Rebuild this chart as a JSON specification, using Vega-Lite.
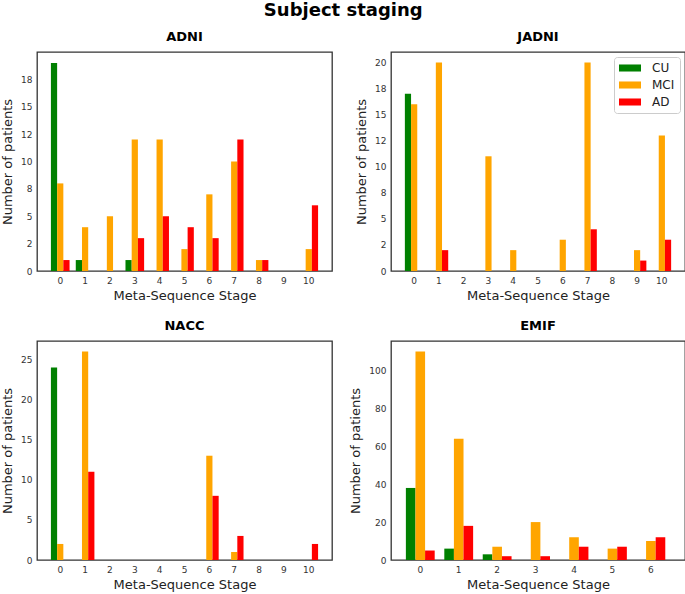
{
  "$schema": "https://vega.github.io/schema/vega-lite/v6.json",
  "background": "white",
  "padding": {"left": 0, "top": 2, "right": 1, "bottom": 2},
  "title": {"text": "Subject staging", "fontSize": 18, "fontWeight": "bold", "anchor": "middle", "offset": 10, "color": "#000"},
  "data": {"values": [
    {"cohort": "ADNI", "stage": 0, "group": "CU", "count": 19},
    {"cohort": "ADNI", "stage": 1, "group": "CU", "count": 1},
    {"cohort": "ADNI", "stage": 3, "group": "CU", "count": 1},
    {"cohort": "ADNI", "stage": 0, "group": "MCI", "count": 8},
    {"cohort": "ADNI", "stage": 1, "group": "MCI", "count": 4},
    {"cohort": "ADNI", "stage": 2, "group": "MCI", "count": 5},
    {"cohort": "ADNI", "stage": 3, "group": "MCI", "count": 12},
    {"cohort": "ADNI", "stage": 4, "group": "MCI", "count": 12},
    {"cohort": "ADNI", "stage": 5, "group": "MCI", "count": 2},
    {"cohort": "ADNI", "stage": 6, "group": "MCI", "count": 7},
    {"cohort": "ADNI", "stage": 7, "group": "MCI", "count": 10},
    {"cohort": "ADNI", "stage": 8, "group": "MCI", "count": 1},
    {"cohort": "ADNI", "stage": 10, "group": "MCI", "count": 2},
    {"cohort": "ADNI", "stage": 0, "group": "AD", "count": 1},
    {"cohort": "ADNI", "stage": 3, "group": "AD", "count": 3},
    {"cohort": "ADNI", "stage": 4, "group": "AD", "count": 5},
    {"cohort": "ADNI", "stage": 5, "group": "AD", "count": 4},
    {"cohort": "ADNI", "stage": 6, "group": "AD", "count": 3},
    {"cohort": "ADNI", "stage": 7, "group": "AD", "count": 12},
    {"cohort": "ADNI", "stage": 8, "group": "AD", "count": 1},
    {"cohort": "ADNI", "stage": 10, "group": "AD", "count": 6},
    {"cohort": "JADNI", "stage": 0, "group": "CU", "count": 17},
    {"cohort": "JADNI", "stage": 0, "group": "MCI", "count": 16},
    {"cohort": "JADNI", "stage": 1, "group": "MCI", "count": 20},
    {"cohort": "JADNI", "stage": 3, "group": "MCI", "count": 11},
    {"cohort": "JADNI", "stage": 4, "group": "MCI", "count": 2},
    {"cohort": "JADNI", "stage": 6, "group": "MCI", "count": 3},
    {"cohort": "JADNI", "stage": 7, "group": "MCI", "count": 20},
    {"cohort": "JADNI", "stage": 9, "group": "MCI", "count": 2},
    {"cohort": "JADNI", "stage": 10, "group": "MCI", "count": 13},
    {"cohort": "JADNI", "stage": 1, "group": "AD", "count": 2},
    {"cohort": "JADNI", "stage": 7, "group": "AD", "count": 4},
    {"cohort": "JADNI", "stage": 9, "group": "AD", "count": 1},
    {"cohort": "JADNI", "stage": 10, "group": "AD", "count": 3},
    {"cohort": "NACC", "stage": 0, "group": "CU", "count": 24},
    {"cohort": "NACC", "stage": 0, "group": "MCI", "count": 2},
    {"cohort": "NACC", "stage": 1, "group": "MCI", "count": 26},
    {"cohort": "NACC", "stage": 6, "group": "MCI", "count": 13},
    {"cohort": "NACC", "stage": 7, "group": "MCI", "count": 1},
    {"cohort": "NACC", "stage": 1, "group": "AD", "count": 11},
    {"cohort": "NACC", "stage": 6, "group": "AD", "count": 8},
    {"cohort": "NACC", "stage": 7, "group": "AD", "count": 3},
    {"cohort": "NACC", "stage": 10, "group": "AD", "count": 2},
    {"cohort": "EMIF", "stage": 0, "group": "CU", "count": 38},
    {"cohort": "EMIF", "stage": 1, "group": "CU", "count": 6},
    {"cohort": "EMIF", "stage": 2, "group": "CU", "count": 3},
    {"cohort": "EMIF", "stage": 0, "group": "MCI", "count": 110},
    {"cohort": "EMIF", "stage": 1, "group": "MCI", "count": 64},
    {"cohort": "EMIF", "stage": 2, "group": "MCI", "count": 7},
    {"cohort": "EMIF", "stage": 3, "group": "MCI", "count": 20},
    {"cohort": "EMIF", "stage": 4, "group": "MCI", "count": 12},
    {"cohort": "EMIF", "stage": 5, "group": "MCI", "count": 6},
    {"cohort": "EMIF", "stage": 6, "group": "MCI", "count": 10},
    {"cohort": "EMIF", "stage": 0, "group": "AD", "count": 5},
    {"cohort": "EMIF", "stage": 1, "group": "AD", "count": 18},
    {"cohort": "EMIF", "stage": 2, "group": "AD", "count": 2},
    {"cohort": "EMIF", "stage": 3, "group": "AD", "count": 2},
    {"cohort": "EMIF", "stage": 4, "group": "AD", "count": 7},
    {"cohort": "EMIF", "stage": 5, "group": "AD", "count": 7},
    {"cohort": "EMIF", "stage": 6, "group": "AD", "count": 12}
  ]},
  "columns": 2,
  "spacing": {"row": 16, "column": 16},
  "concat": [
    {
      "title": "ADNI",
      "width": 295, "height": 219,
      "transform": [{"filter": "datum.cohort == 'ADNI'"}],
      "mark": {"type": "bar"},
      "encoding": {
        "x": {"field": "stage", "type": "ordinal", "scale": {"domain": [0,1,2,3,4,5,6,7,8,9,10], "paddingInner": 0.25, "paddingOuter": 0.56}, "axis": {"title": "Meta-Sequence Stage", "labelAngle": 0}},
        "xOffset": {"field": "group", "scale": {"domain": ["CU", "MCI", "AD"]}},
        "y": {"field": "count", "type": "quantitative", "scale": {"domain": [0, 20], "nice": false}, "axis": {"title": "Number of patients", "values": [0, 2.5, 5, 7.5, 10, 12.5, 15, 17.5], "labelExpr": "datum.value == 2.5 ? '2' : datum.value == 7.5 ? '8' : datum.value == 12.5 ? '12' : datum.value == 17.5 ? '18' : datum.label"}},
        "color": {"field": "group", "type": "nominal", "scale": {"domain": ["CU", "MCI", "AD"], "range": ["green", "orange", "red"]}, "legend": null}
      }
    },
    {
      "title": "JADNI",
      "width": 294, "height": 219,
      "transform": [{"filter": "datum.cohort == 'JADNI'"}],
      "mark": {"type": "bar"},
      "encoding": {
        "x": {"field": "stage", "type": "ordinal", "scale": {"domain": [0,1,2,3,4,5,6,7,8,9,10], "paddingInner": 0.25, "paddingOuter": 0.56}, "axis": {"title": "Meta-Sequence Stage", "labelAngle": 0}},
        "xOffset": {"field": "group", "scale": {"domain": ["CU", "MCI", "AD"]}},
        "y": {"field": "count", "type": "quantitative", "scale": {"domain": [0, 21], "nice": false}, "axis": {"title": "Number of patients", "values": [0, 2.5, 5, 7.5, 10, 12.5, 15, 17.5, 20], "labelExpr": "datum.value == 2.5 ? '2' : datum.value == 7.5 ? '8' : datum.value == 12.5 ? '12' : datum.value == 17.5 ? '18' : datum.label"}},
        "color": {"field": "group", "type": "nominal", "scale": {"domain": ["CU", "MCI", "AD"], "range": ["green", "orange", "red"]},
          "legend": {"orient": "top-right", "offset": 5, "title": null, "symbolType": "M-2,-0.64H2V0.64H-2Z", "symbolSize": 121, "symbolOffset": 5, "symbolStrokeWidth": 0, "labelFontSize": 12, "labelColor": "#222", "labelOffset": 16, "fillColor": "white", "strokeColor": "#cccccc", "padding": 5, "cornerRadius": 3, "rowPadding": 5}}
      }
    },
    {
      "title": "NACC",
      "width": 295, "height": 219,
      "transform": [{"filter": "datum.cohort == 'NACC'"}],
      "mark": {"type": "bar"},
      "encoding": {
        "x": {"field": "stage", "type": "ordinal", "scale": {"domain": [0,1,2,3,4,5,6,7,8,9,10], "paddingInner": 0.25, "paddingOuter": 0.56}, "axis": {"title": "Meta-Sequence Stage", "labelAngle": 0}},
        "xOffset": {"field": "group", "scale": {"domain": ["CU", "MCI", "AD"]}},
        "y": {"field": "count", "type": "quantitative", "scale": {"domain": [0, 27.3], "nice": false}, "axis": {"title": "Number of patients", "values": [0, 5, 10, 15, 20, 25]}},
        "color": {"field": "group", "type": "nominal", "scale": {"domain": ["CU", "MCI", "AD"], "range": ["green", "orange", "red"]}, "legend": null}
      }
    },
    {
      "title": "EMIF",
      "width": 294, "height": 219,
      "transform": [{"filter": "datum.cohort == 'EMIF'"}],
      "mark": {"type": "bar"},
      "encoding": {
        "x": {"field": "stage", "type": "ordinal", "scale": {"domain": [0,1,2,3,4,5,6], "paddingInner": 0.25, "paddingOuter": 0.45, "align": 0.43}, "axis": {"title": "Meta-Sequence Stage", "labelAngle": 0}},
        "xOffset": {"field": "group", "scale": {"domain": ["CU", "MCI", "AD"]}},
        "y": {"field": "count", "type": "quantitative", "scale": {"domain": [0, 115.5], "nice": false}, "axis": {"title": "Number of patients", "values": [0, 20, 40, 60, 80, 100]}},
        "color": {"field": "group", "type": "nominal", "scale": {"domain": ["CU", "MCI", "AD"], "range": ["green", "orange", "red"]}, "legend": null}
      }
    }
  ],
  "resolve": {"scale": {"x": "independent", "y": "independent", "xOffset": "independent"}, "legend": {"color": "independent"}},
  "config": {
    "font": "DejaVu Sans",
    "view": {"stroke": "#333333", "strokeWidth": 1.3},
    "axis": {"ticks": false, "grid": false, "domain": false, "labelFontSize": 9, "labelColor": "#333333", "titleFontSize": 13, "titleFontWeight": "normal", "titleColor": "#222222", "labelPadding": 5, "titlePadding": 6},
    "axisX": {"titlePadding": 4},
    "title": {"fontSize": 13, "fontWeight": "bold", "offset": 8, "color": "#000000"}
  }
}
